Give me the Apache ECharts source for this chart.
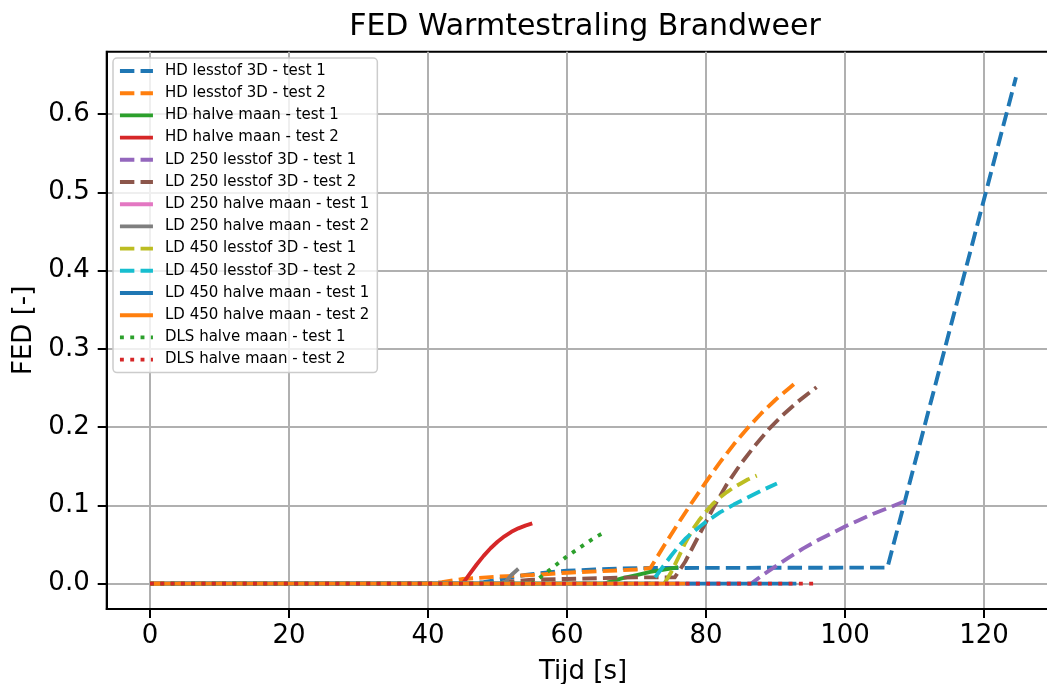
<!DOCTYPE html>
<html>
<head>
<meta charset="utf-8">
<script src="https://cdn.jsdelivr.net/npm/echarts@6/dist/echarts.min.js"></script>
<style>
html,body{margin:0;padding:0;background:#fff;}
#chart{width:1047px;height:684px;}
</style>
</head>
<body>
<div id="chart"></div>
<script>
// ---- data (time [s], FED [-]) ----
const seriesNames = [
  'HD lesstof 3D - test 1', 'HD lesstof 3D - test 2',
  'HD halve maan - test 1', 'HD halve maan - test 2',
  'LD 250 lesstof 3D - test 1', 'LD 250 lesstof 3D - test 2',
  'LD 250 halve maan - test 1', 'LD 250 halve maan - test 2',
  'LD 450 lesstof 3D - test 1', 'LD 450 lesstof 3D - test 2',
  'LD 450 halve maan - test 1', 'LD 450 halve maan - test 2',
  'DLS halve maan - test 1', 'DLS halve maan - test 2'
];

const hdLesstof1 = [[0,0],[46,0],[48,0.002],[50,0.005],[52,0.008],[54,0.011],[56,0.013],[58,0.015],[60,0.0165],[64,0.018],[68,0.0195],[72,0.02],[106.1,0.0205],[124.6,0.647]];
const hdLesstof2 = [[0,0],[40,0],[42,0.002],[45,0.006],[50,0.009],[55,0.011],[60,0.014],[65,0.016],[70,0.018],[72,0.02],[74,0.049],[76,0.077],[78,0.104],[80,0.13],[82,0.155],[84,0.178],[86,0.199],[88,0.218],[90,0.235],[92,0.25],[93.2,0.259]];
const hdHalve1 = [[0,0],[65.5,0],[66,0.002],[68,0.007],[70,0.011],[72,0.015],[74,0.018],[76,0.021]];
const hdHalve2 = [[0,0],[45,0],[46,0.0125],[47,0.0245],[48,0.0355],[49,0.0452],[50,0.0535],[51,0.0605],[52,0.0662],[53,0.0707],[54,0.0742],[55,0.077]];
const ld250Lesstof1 = [[0,0],[86.5,0],[88,0.01],[90,0.022],[92,0.034],[94,0.045],[96,0.055],[98,0.064],[100,0.073],[102,0.081],[104,0.089],[106,0.096],[108.5,0.105]];
const ld250Lesstof2 = [[0,0],[50,0],[52,0.003],[55,0.005],[60,0.006],[65,0.007],[70,0.008],[75.5,0.008],[77,0.028],[79,0.062],[81,0.096],[83,0.127],[85,0.153],[87,0.176],[89,0.197],[91,0.215],[93,0.231],[95.9,0.251]];
const ld250Halve1 = [[0,0],[52,0]];
const ld250Halve2 = [[0,0],[51,0],[51.5,0.006],[52,0.011],[53,0.019]];
const ld450Lesstof1 = [[0,0],[74,0],[75,0.015],[76,0.033],[77,0.052],[78,0.068],[79,0.081],[80,0.092],[81,0.102],[82,0.11],[83,0.117],[84,0.123],[85,0.128],[86,0.133],[87.3,0.138]];
const ld450Lesstof2 = [[2,0],[72,0],[73,0.012],[74,0.024],[75,0.036],[76,0.047],[77,0.057],[78,0.065],[79,0.072],[80,0.079],[82,0.091],[84,0.101],[86,0.11],[88,0.119],[90.2,0.128]];
const ld450Halve1 = [[3,0],[93,0]];
const ld450Halve2 = [[0,0],[77,0]];
const dlsHalve1 = [[0,0],[55,0],[56,0.007],[57,0.014],[58,0.021],[59,0.028],[60,0.035],[61,0.041],[62,0.047],[63,0.053],[64,0.059],[65.3,0.065]];
const dlsHalve2 = [[0,0],[96,0]];

const seriesData = [hdLesstof1, hdLesstof2, hdHalve1, hdHalve2, ld250Lesstof1, ld250Lesstof2,
  ld250Halve1, ld250Halve2, ld450Lesstof1, ld450Lesstof2, ld450Halve1, ld450Halve2, dlsHalve1, dlsHalve2];

// ---- styles ----
const colors = ['#1f77b4','#ff7f0e','#2ca02c','#d62728','#9467bd','#8c564b','#e377c2','#7f7f7f','#bcbd22','#17becf','#1f77b4','#ff7f0e','#2ca02c','#d62728'];
const dashed = [14.4, 6.2];
const dotted = [3.9, 6.4];
const kinds = [dashed, dashed, 'solid', 'solid', dashed, dashed, 'solid', 'solid', dashed, dashed, 'solid', 'solid', dotted, dotted];

const FONT = 'DejaVu Sans';
const chart = echarts.init(document.getElementById('chart'), null, {renderer: 'canvas'});

const series = seriesNames.map((name, i) => ({
  name: name,
  type: 'line',
  data: seriesData[i],
  symbol: 'none',
  showSymbol: false,
  smooth: false,
  animation: false,
  clip: true,
  color: colors[i],
  lineStyle: { color: colors[i], width: 3.9, type: kinds[i], cap: 'butt', join: 'round' },
  emphasis: { disabled: true },
  z: 2 + i
}));

chart.setOption({
  animation: false,
  backgroundColor: '#ffffff',
  title: {
    text: 'FED Warmtestraling Brandweer',
    left: 580, top: 7, textAlign: 'center',
    textStyle: { fontFamily: FONT, fontSize: 30, fontWeight: 'normal', color: '#000' }
  },
  grid: {
    left: 106.7, right: -12.3, top: 51.7, bottom: 75,
    show: true, borderColor: '#000', borderWidth: 2, backgroundColor: 'transparent',
    containLabel: false, outerBoundsMode: 'none'
  },
  legend: {
    orient: 'vertical', left: 113, top: 58,
    data: seriesNames,
    itemWidth: 33, itemHeight: 14, itemGap: 7.2,
    padding: [5.5, 8, 5.5, 5],
    backgroundColor: 'rgba(255,255,255,0.8)',
    borderColor: '#cccccc', borderWidth: 1.5, borderRadius: 4,
    selectedMode: false,
    itemStyle: { opacity: 0, borderWidth: 0 },
    lineStyle: { width: 3.9 },
    textStyle: { fontFamily: FONT, fontSize: 15, color: '#000', lineHeight: 15, padding: [0, 0, 0, 7] }
  },
  xAxis: {
    type: 'value', min: -6.23, max: 130.83, splitNumber: 7,
    name: 'Tijd [s]', nameLocation: 'middle', nameGap: 50,
    nameTextStyle: { fontFamily: FONT, fontSize: 26, color: '#000' },
    axisLine: { show: true, onZero: false, lineStyle: { color: '#000', width: 2 } },
    axisTick: { show: true, inside: false, length: 9, lineStyle: { color: '#000', width: 2 } },
    axisLabel: { fontFamily: FONT, fontSize: 26, color: '#000', margin: 14, showMinLabel: false, showMaxLabel: false },
    splitLine: { show: true, showMinLine: false, showMaxLine: false, lineStyle: { color: '#b0b0b0', width: 2 } }
  },
  yAxis: {
    type: 'value', min: -0.0324, max: 0.6797, splitNumber: 7,
    name: 'FED [-]', nameLocation: 'middle', nameGap: 68, nameRotate: 90,
    nameTextStyle: { fontFamily: FONT, fontSize: 26, color: '#000' },
    axisLine: { show: true, onZero: false, lineStyle: { color: '#000', width: 2 } },
    axisTick: { show: true, inside: false, length: 9, lineStyle: { color: '#000', width: 2 } },
    axisLabel: { fontFamily: FONT, fontSize: 26, color: '#000', margin: 17, showMinLabel: false, showMaxLabel: false,
      formatter: v => v.toFixed(1) },
    splitLine: { show: true, showMinLine: false, showMaxLine: false, lineStyle: { color: '#b0b0b0', width: 2 } }
  },
  series: series
});
</script>
</body>
</html>
